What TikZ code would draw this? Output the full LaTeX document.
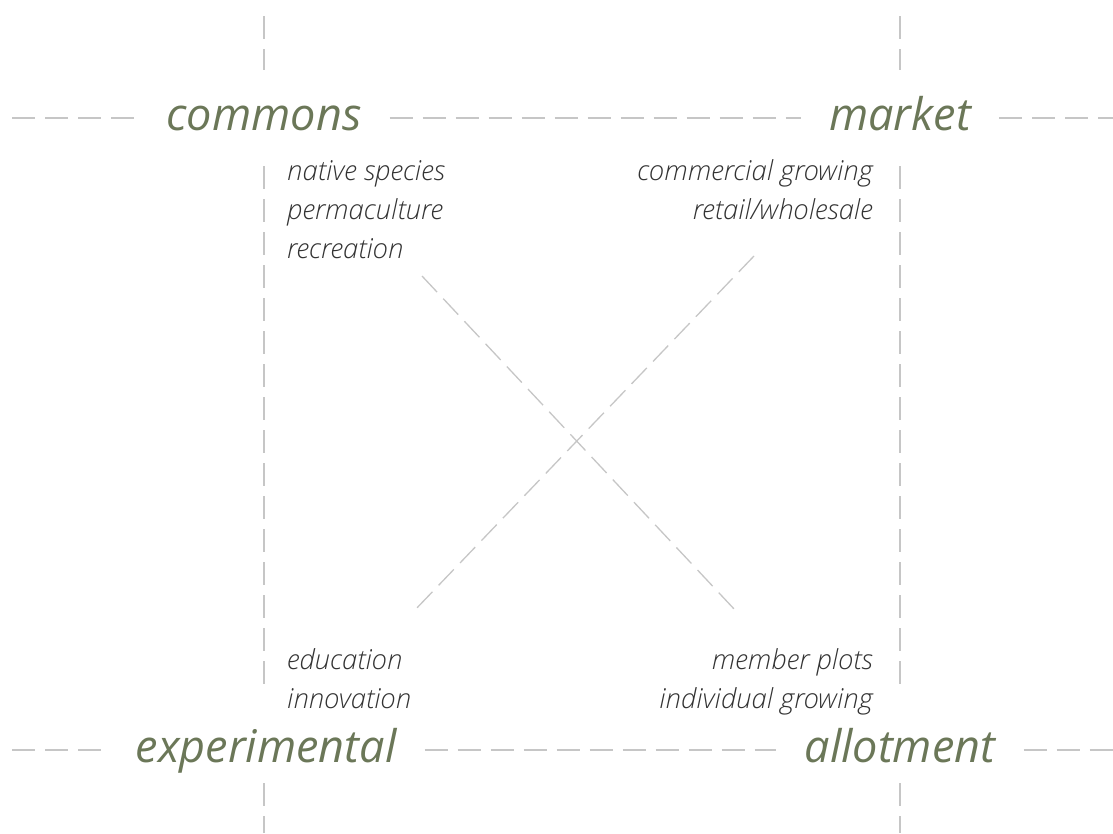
\documentclass[tikz,border=0pt]{standalone}
\usepackage{fontspec}
\setmainfont{Open Sans}[UprightFont=* Light, ItalicFont=* Light Italic]
\newfontfamily\headfont{Open Sans}
\usepackage{xcolor}
\usepackage{tikz}
\usetikzlibrary{positioning}
\definecolor{sage}{HTML}{6B7758}
\definecolor{ink}{HTML}{333333}
\definecolor{rulegray}{HTML}{C6C6C6}

\begin{document}
\begin{tikzpicture}[x=1pt, y=-1pt,
  quad/.style={text=sage, font=\headfont\fontsize{45}{54}\selectfont\itshape,
    text height=37pt, text depth=13pt, inner xsep=28pt, minimum height=96pt},
  use/.style={text=ink, font=\fontsize{27.5}{39}\selectfont\itshape, inner sep=0pt},
  axis/.style={draw=rulegray, line width=1.3pt, dash pattern=on 23pt off 10pt},
  cross/.style={axis, dash pattern=on 22pt off 9pt}
]
\useasboundingbox (0,0) rectangle (1113,833);

\node[quad] (commons) at (264,118) {commons};
\node[quad] (market) at (900,118) {market};
\node[quad] (experimental) at (266,750) {experimental};
\node[quad] (allotment) at (900,750) {allotment};

\node[use, anchor=base west, align=left] (native) at (287,258)
  {native species\\permaculture\\recreation};
\node[use, anchor=base east, align=right] (commercial) at (873,219)
  {commercial growing\\retail/wholesale};
\node[use, anchor=base west, align=left] (education) at (287,708)
  {education\\innovation};
\node[use, anchor=base east, align=right] (member) at (873,708)
  {member plots\\individual growing};

\coordinate (top w) at (12,118);
\coordinate (top e) at (1113,118);
\coordinate (bot w) at (12,750);
\coordinate (bot e) at (1113,750);
\coordinate (left n) at (264,16);
\coordinate (left s) at (264,833);
\coordinate (right n) at (900,16);
\coordinate (right s) at (900,833);

\draw[axis] (top w) -- (commons);
\draw[axis] (commons) -- (market);
\draw[axis] (market) -- (top e);
\draw[axis] (bot w) -- (experimental);
\draw[axis] (experimental) -- (allotment);
\draw[axis] (allotment) -- (bot e);

\draw[axis] (left n) -- (left n |- commons.north);
\draw[axis, shorten >=12pt] (commons.south -| left n) -- (left n |- experimental.north);
\draw[axis, shorten <=-15pt] (left n |- experimental.south) -- (left s);
\draw[axis] (right n) -- (market);
\draw[axis, shorten >=12pt] (market) -- (allotment);
\draw[axis, shorten <=-15pt] (allotment) -- (right s);

\coordinate (nw) at (422,276);
\coordinate (se) at (735,610);
\coordinate (ne) at (754,256);
\coordinate (sw) at (414,611);
\draw[cross] (nw) -- (se);
\draw[cross] (ne) -- (sw);
\end{tikzpicture}
\end{document}
